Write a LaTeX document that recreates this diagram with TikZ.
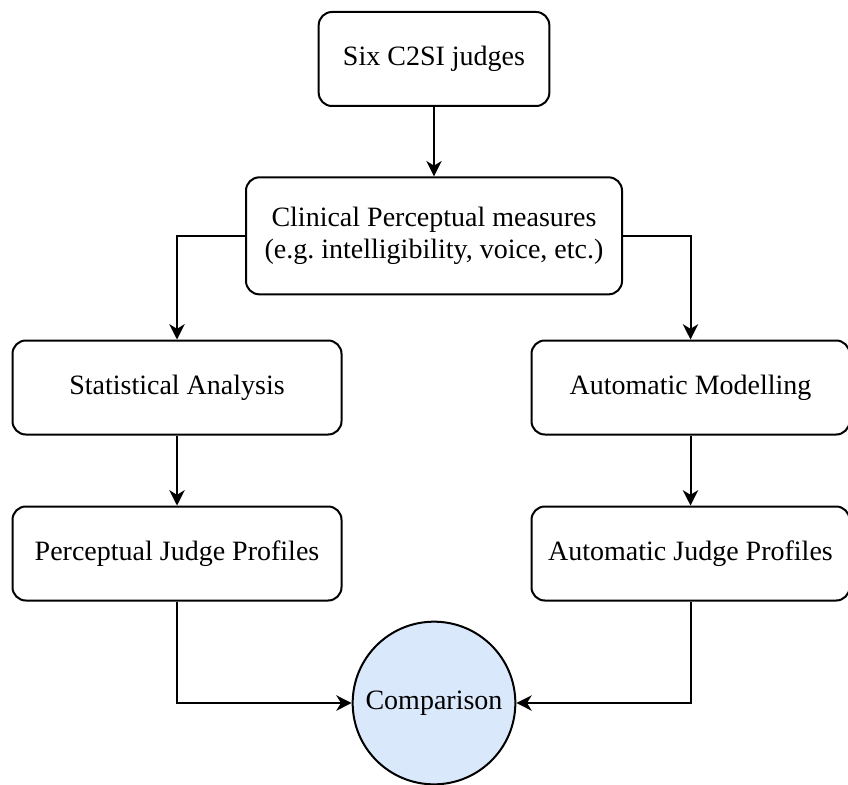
\documentclass[tikz,border=0pt]{standalone}
\usepackage{fontspec}
\setmainfont{Liberation Serif}
\usetikzlibrary{positioning,arrows.meta}
\tikzset{
  jbox/.style={draw, rounded corners=10pt, minimum height=70.5pt,
    align=center, line width=1.5pt, inner sep=2pt},
  widebox/.style={jbox, minimum width=246.75pt},
  autobox/.style={jbox, minimum width=238.5pt},
  compnode/.style={draw, circle, line width=1.5pt, fill=cmpblue, minimum size=122pt, inner sep=0pt},
  arr/.style={-{Stealth[length=11.5pt, width=11.5pt, inset=3.5pt]}, line width=1.5pt},
}
\definecolor{cmpblue}{HTML}{DAE8FC}

\begin{document}
\begin{tikzpicture}[x=0.75pt, y=-0.75pt, font=\fontsize{21}{24}\selectfont]
\useasboundingbox (0,0) rectangle (848,784);
% top: judges and measures
\node[jbox, minimum width=173pt] (judges) at (434,59) {Six C2SI judges};
\node[jbox, minimum width=282pt, minimum height=87.75pt, below=52pt of judges] (measures)
  {Clinical Perceptual measures\\(e.g.\ intelligibility, voice, etc.)};
% two branches
\node[widebox] (stats) at (177,387.5) {Statistical Analysis};
\node[autobox, right=141pt of stats] (auto) {Automatic Modelling};
\node[widebox, below=52.5pt of stats] (percprof) {Perceptual Judge Profiles};
\node[autobox, below=52.5pt of auto] (autoprof) {Automatic Judge Profiles};
% comparison
\node[compnode] (comp) at (434,703) {Comparison};
% arrows
\draw[arr] (judges) -- (measures);
\draw[arr] (measures.west) -| (stats.north);
\draw[arr] (measures.east) -| (auto.north);
\draw[arr] (stats) -- (percprof);
\draw[arr] (auto) -- (autoprof);
\draw[arr] (percprof.south) |- (comp.west);
\draw[arr] (autoprof.south) |- (comp.east);
\end{tikzpicture}
\end{document}
